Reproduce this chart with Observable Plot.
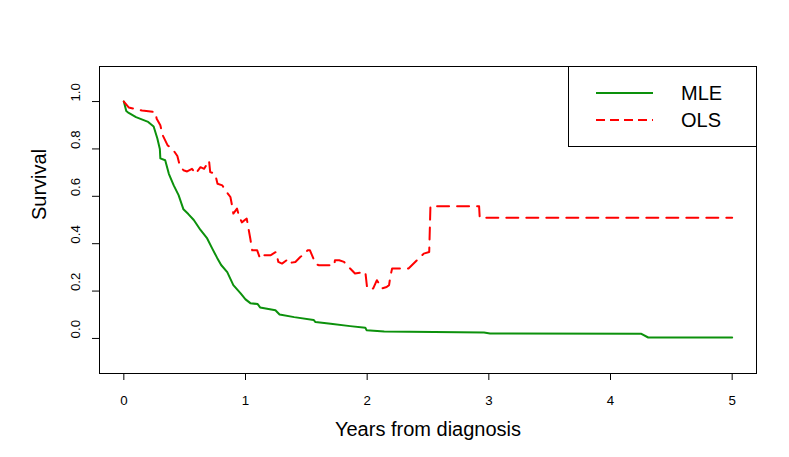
<!DOCTYPE html>
<html>
<head>
<meta charset="utf-8">
<script src="https://cdn.jsdelivr.net/npm/d3@7"></script>
<script src="https://cdn.jsdelivr.net/npm/@observablehq/plot@0.6"></script>
<style>
  html, body { margin: 0; padding: 0; background: #fff; }
  #wrap { position: relative; width: 789px; height: 457px; font-family: "Liberation Sans", Arial, Helvetica, sans-serif; }
  #legend { position: absolute; left: 0; top: 0; }
</style>
</head>
<body>
<div id="wrap"></div>
<script>
// ---- data ----
const mleTime = [0, 0.02, 0.04, 0.1, 0.2, 0.245, 0.275, 0.296, 0.30, 0.34, 0.37, 0.41, 0.45, 0.49, 0.53, 0.575, 0.63, 0.685, 0.726, 0.767, 0.80, 0.85, 0.90, 0.96, 1.0, 1.04, 1.10, 1.12, 1.246, 1.28, 1.40, 1.56, 1.575, 1.70, 1.86, 1.985, 1.995, 2.14, 2.96, 3.01, 4.25, 4.31, 5.0];
const mleSurv = [1.0, 0.96, 0.952, 0.934, 0.914, 0.895, 0.845, 0.80, 0.76, 0.752, 0.695, 0.646, 0.605, 0.545, 0.525, 0.50, 0.458, 0.422, 0.38, 0.34, 0.31, 0.28, 0.225, 0.19, 0.165, 0.149, 0.145, 0.131, 0.119, 0.101, 0.09, 0.078, 0.069, 0.062, 0.052, 0.045, 0.035, 0.029, 0.025, 0.021, 0.02, 0.004, 0.004];

const olsTime = [0, 0.04, 0.1, 0.15, 0.26, 0.27, 0.30, 0.32, 0.36, 0.40, 0.44, 0.46, 0.49, 0.52, 0.56, 0.59, 0.63, 0.66, 0.70, 0.71, 0.75, 0.77, 0.81, 0.835, 0.876, 0.89, 0.90, 0.93, 0.945, 0.97, 1.01, 1.04, 1.055, 1.096, 1.12, 1.15, 1.205, 1.25, 1.27, 1.30, 1.356, 1.38, 1.41, 1.45, 1.49, 1.51, 1.53, 1.575, 1.60, 1.73, 1.735, 1.77, 1.81, 1.86, 1.90, 1.985, 2.0, 2.05, 2.08, 2.12, 2.16, 2.18, 2.19, 2.205, 2.34, 2.465, 2.51, 2.52, 2.92, 2.925, 5.0];
const olsSurv = [1.0, 0.975, 0.968, 0.962, 0.955, 0.927, 0.90, 0.857, 0.815, 0.80, 0.77, 0.73, 0.71, 0.705, 0.716, 0.695, 0.723, 0.716, 0.751, 0.702, 0.695, 0.653, 0.646, 0.625, 0.597, 0.56, 0.527, 0.548, 0.52, 0.49, 0.506, 0.42, 0.372, 0.372, 0.337, 0.351, 0.351, 0.365, 0.323, 0.316, 0.337, 0.32, 0.323, 0.344, 0.358, 0.372, 0.372, 0.316, 0.309, 0.309, 0.33, 0.33, 0.323, 0.295, 0.274, 0.281, 0.211, 0.211, 0.246, 0.211, 0.217, 0.225, 0.26, 0.295, 0.295, 0.358, 0.365, 0.558, 0.558, 0.51, 0.51];

const xTicks = [0, 1, 2, 3, 4, 5];
const yTicks = [0.0, 0.2, 0.4, 0.6, 0.8, 1.0];
const seriesNames = ["MLE", "OLS"];
const seriesColors = ["#0c910c", "#ff0000"];
const xTitle = "Years from diagnosis";
const yTitle = "Survival";

// ---- build tables ----
const mle = mleTime.map((t, i) => ({time: t, surv: mleSurv[i]}));
const ols = olsTime.map((t, i) => ({time: t, surv: olsSurv[i]}));

const W = 789, H = 457;
const mL = 99, mR = 33, mT = 66, mB = 84;
const font = "'Liberation Sans', Arial, Helvetica, sans-serif";

const chart = Plot.plot({
  width: W,
  height: H,
  marginLeft: mL,
  marginRight: mR,
  marginTop: mT,
  marginBottom: mB,
  style: {fontFamily: font, fontSize: "13.3px", color: "#000", background: "#fff"},
  x: {domain: [-0.2, 5.2]},
  y: {domain: [-0.148, 1.148]},
  marks: [
    Plot.axisX({ticks: xTicks, tickSize: 7, tickPadding: 15, label: null, fontSize: 13.3, tickFormat: d3.format("d")}),
    Plot.axisY({ticks: yTicks, tickSize: 7, label: null, tickFormat: () => ""}),
    Plot.text(yTicks, {y: d => d, text: d => d.toFixed(1), frameAnchor: "left", dx: -23.5, rotate: -90, fontSize: 13.3, fill: "#000"}),
    Plot.text([xTitle], {frameAnchor: "bottom", dy: 62, fontSize: 20, fill: "#000"}),
    Plot.text([yTitle], {frameAnchor: "left", dx: -60, rotate: -90, fontSize: 20, fill: "#000"}),
    Plot.line(mle, {x: "time", y: "surv", stroke: seriesColors[0], strokeWidth: 2, strokeLinejoin: "round"}),
    Plot.line(ols, {x: "time", y: "surv", stroke: seriesColors[1], strokeWidth: 2, strokeDasharray: "12,8", strokeLinejoin: "round"}),
    Plot.frame({stroke: "#000", strokeWidth: 1})
  ]
});

const wrap = document.getElementById("wrap");
wrap.appendChild(chart);

// ---- legend (top-right inside the plot box) ----
const boxRight = W - mR, boxTop = mT;
const boxW = 188, boxH = 80;
const ns = "http://www.w3.org/2000/svg";
const leg = document.createElementNS(ns, "svg");
leg.setAttribute("id", "legend");
leg.setAttribute("width", W);
leg.setAttribute("height", H);
leg.style.position = "absolute"; leg.style.left = "0"; leg.style.top = "0";
const rect = document.createElementNS(ns, "rect");
rect.setAttribute("x", boxRight - boxW + 0.5);
rect.setAttribute("y", boxTop + 0.5);
rect.setAttribute("width", boxW);
rect.setAttribute("height", boxH);
rect.setAttribute("fill", "#fff");
rect.setAttribute("stroke", "#000");
leg.appendChild(rect);
const rowY = [boxTop + 27, boxTop + 54];
const dashes = [null, "9,5"];
seriesNames.forEach((name, i) => {
  const ln = document.createElementNS(ns, "line");
  ln.setAttribute("x1", boxRight - boxW + 28);
  ln.setAttribute("x2", boxRight - boxW + 85);
  ln.setAttribute("y1", rowY[i]);
  ln.setAttribute("y2", rowY[i]);
  ln.setAttribute("stroke", seriesColors[i]);
  ln.setAttribute("stroke-width", 2);
  if (dashes[i]) ln.setAttribute("stroke-dasharray", dashes[i]);
  leg.appendChild(ln);
  const tx = document.createElementNS(ns, "text");
  tx.setAttribute("x", boxRight - boxW + 113);
  tx.setAttribute("y", rowY[i]);
  tx.setAttribute("dy", "0.35em");
  tx.setAttribute("font-size", 20);
  tx.setAttribute("font-family", font);
  tx.textContent = name;
  leg.appendChild(tx);
});
wrap.appendChild(leg);
</script>
</body>
</html>
